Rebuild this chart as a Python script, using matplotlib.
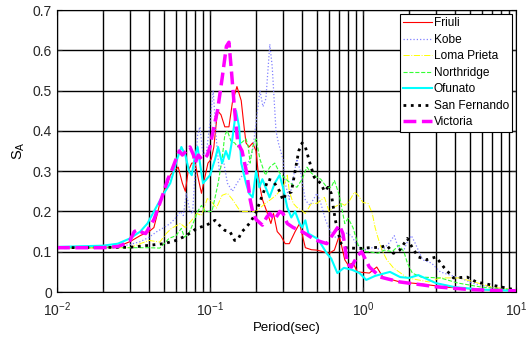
import matplotlib
matplotlib.use("Agg")
import matplotlib.pyplot as plt
from matplotlib.ticker import LogLocator, NullFormatter

plt.rcParams['font.family'] = ['Liberation Sans', 'DejaVu Sans']
plt.rcParams['mathtext.default'] = 'regular'

# response spectra, period (sec) / spectral acceleration
friuli_t = [0.01, 0.02, 0.025, 0.03, 0.035, 0.04, 0.043, 0.045, 0.047, 0.05, 0.053, 0.055, 0.058,
            0.062, 0.066, 0.069, 0.072, 0.076, 0.08, 0.084, 0.088, 0.092, 0.097, 0.102, 0.106,
            0.112, 0.118, 0.125, 0.133, 0.14, 0.15, 0.16, 0.167, 0.172, 0.18, 0.19, 0.2, 0.21,
            0.22, 0.235, 0.25, 0.26, 0.275, 0.29, 0.31, 0.33, 0.36, 0.385, 0.42, 0.46, 0.5, 0.55,
            0.6, 0.65, 0.7, 0.76, 0.8, 0.86, 0.92, 1.1, 1.23, 1.35, 1.74, 2.4, 3.5, 5.0, 7.0, 10.0]
friuli_sa = [0.11, 0.11, 0.113, 0.125, 0.14, 0.15, 0.16, 0.19, 0.22, 0.25, 0.27, 0.29, 0.3,
             0.31, 0.27, 0.25, 0.3, 0.32, 0.32, 0.28, 0.245, 0.28, 0.32, 0.33, 0.36,
             0.45, 0.44, 0.41, 0.41, 0.47, 0.51, 0.475, 0.41, 0.37, 0.36, 0.37, 0.35, 0.27,
             0.23, 0.2, 0.17, 0.195, 0.15, 0.14, 0.12, 0.12, 0.15, 0.17, 0.11, 0.105, 0.104, 0.1,
             0.096, 0.104, 0.14, 0.08, 0.067, 0.072, 0.05, 0.047, 0.062, 0.037, 0.025, 0.02, 0.012,
             0.008, 0.005, 0.003]

kobe_t = [0.01, 0.025, 0.03, 0.035, 0.04, 0.045, 0.05, 0.055, 0.06, 0.064, 0.067, 0.07, 0.074,
          0.077, 0.08, 0.083, 0.086, 0.09, 0.095, 0.1, 0.105, 0.11, 0.115, 0.122, 0.13, 0.14,
          0.15, 0.17, 0.19, 0.2, 0.212, 0.222, 0.232, 0.246, 0.255, 0.27, 0.28, 0.3, 0.31, 0.33,
          0.345, 0.37, 0.39, 0.42, 0.45, 0.5, 0.53, 0.57, 0.62, 0.66, 0.72, 0.78, 0.84, 0.9, 1.0,
          1.15, 1.35, 1.5, 1.6, 1.7, 1.85, 1.95, 2.07, 2.2, 2.45, 2.8, 3.2, 3.7, 4.3, 5.2, 6.8, 10.0]
kobe_sa = [0.11, 0.112, 0.118, 0.125, 0.136, 0.15, 0.16, 0.17, 0.185, 0.2, 0.19, 0.245, 0.2,
           0.195, 0.3, 0.39, 0.41, 0.34, 0.35, 0.42, 0.5, 0.38, 0.3, 0.33, 0.27, 0.25,
           0.27, 0.3, 0.35, 0.42, 0.5, 0.46, 0.48, 0.615, 0.56, 0.4, 0.37, 0.33, 0.27, 0.23,
           0.27, 0.33, 0.3, 0.228, 0.215, 0.245, 0.22, 0.178, 0.146, 0.136, 0.135, 0.146, 0.14,
           0.12, 0.104, 0.11, 0.105, 0.124, 0.14, 0.11, 0.104, 0.125, 0.14, 0.12, 0.08, 0.072,
           0.05, 0.042, 0.035, 0.022, 0.012, 0.005]

loma_t = [0.01, 0.03, 0.035, 0.04, 0.047, 0.052, 0.056, 0.064, 0.069, 0.076, 0.082, 0.088, 0.096,
          0.102, 0.11, 0.12, 0.13, 0.14, 0.158, 0.17, 0.2, 0.23, 0.25, 0.27, 0.3, 0.32, 0.33,
          0.35, 0.37, 0.39, 0.42, 0.46, 0.5, 0.56, 0.6, 0.645, 0.72, 0.76, 0.82, 0.88, 0.93,
          1.0, 1.08, 1.15, 1.2, 1.25, 1.33, 1.43, 1.58, 1.95, 2.7, 3.2, 4.2, 5.0, 7.0, 10.0]
loma_sa = [0.11, 0.11, 0.12, 0.128, 0.124, 0.146, 0.158, 0.17, 0.16, 0.178, 0.195, 0.19, 0.232,
           0.225, 0.208, 0.24, 0.245, 0.23, 0.2, 0.2, 0.2, 0.22, 0.23, 0.24, 0.26, 0.29, 0.25,
           0.22, 0.21, 0.205, 0.195, 0.22, 0.22, 0.235, 0.2, 0.21, 0.22, 0.215, 0.228, 0.248, 0.24,
           0.222, 0.22, 0.195, 0.16, 0.136, 0.104, 0.08, 0.06, 0.035, 0.025, 0.035, 0.035, 0.028,
           0.012, 0.005]

north_t = [0.01, 0.04, 0.047, 0.054, 0.06, 0.065, 0.068, 0.073, 0.08, 0.083, 0.088, 0.093, 0.098,
           0.103, 0.107, 0.113, 0.12, 0.125, 0.13, 0.137, 0.145, 0.152, 0.16, 0.172, 0.178, 0.183,
           0.19, 0.2, 0.212, 0.23, 0.246, 0.265, 0.286, 0.32, 0.35, 0.37, 0.4, 0.43, 0.46, 0.5,
           0.53, 0.58, 0.62, 0.65, 0.7, 0.76, 0.8, 0.86, 0.93, 1.05, 1.1, 1.25, 1.38, 1.55, 1.72,
           1.85, 1.95, 2.1, 2.4, 3.2, 4.2, 6.0, 10.0]
north_sa = [0.11, 0.11, 0.109, 0.133, 0.14, 0.158, 0.136, 0.146, 0.183, 0.2, 0.215, 0.2, 0.2,
            0.2, 0.228, 0.27, 0.33, 0.39, 0.4, 0.375, 0.37, 0.36, 0.37, 0.38, 0.36, 0.32,
            0.36, 0.38, 0.33, 0.29, 0.31, 0.32, 0.295, 0.277, 0.265, 0.26, 0.28, 0.31, 0.295, 0.285,
            0.28, 0.26, 0.26, 0.277, 0.24, 0.17, 0.183, 0.16, 0.116, 0.1, 0.1, 0.096, 0.104, 0.1,
            0.116, 0.1, 0.072, 0.047, 0.037, 0.035, 0.022, 0.012, 0.005]

ofu_t = [0.01, 0.02, 0.025, 0.03, 0.035, 0.039, 0.043, 0.05, 0.055, 0.058, 0.061, 0.065, 0.069,
         0.073, 0.076, 0.08, 0.083, 0.086, 0.09, 0.095, 0.1, 0.108, 0.113, 0.12, 0.127, 0.133,
         0.14, 0.148, 0.155, 0.16, 0.172, 0.18, 0.19, 0.2, 0.21, 0.22, 0.245, 0.265, 0.285, 0.3,
         0.32, 0.34, 0.36, 0.385, 0.4, 0.42, 0.44, 0.5, 0.53, 0.58, 0.62, 0.68, 0.75, 0.85, 0.95,
         1.05, 1.2, 1.5, 1.75, 2.0, 2.3, 3.0, 4.0, 6.0, 10.0]
ofu_sa = [0.112, 0.115, 0.12, 0.133, 0.15, 0.17, 0.2, 0.245, 0.27, 0.3, 0.33, 0.36, 0.34,
          0.3, 0.29, 0.34, 0.36, 0.32, 0.27, 0.28, 0.29, 0.33, 0.36, 0.32, 0.35, 0.33,
          0.38, 0.45, 0.41, 0.32, 0.27, 0.245, 0.235, 0.3, 0.26, 0.28, 0.235, 0.27, 0.29, 0.26,
          0.21, 0.185, 0.2, 0.17, 0.16, 0.178, 0.145, 0.133, 0.12, 0.096, 0.083, 0.047, 0.06,
          0.055, 0.047, 0.03, 0.04, 0.05, 0.037, 0.035, 0.042, 0.022, 0.012, 0.006, 0.003]

sanf_t = [0.01, 0.03, 0.04, 0.05, 0.06, 0.07, 0.082, 0.095, 0.108, 0.115, 0.125, 0.135, 0.145,
          0.152, 0.162, 0.172, 0.185, 0.2, 0.21, 0.225, 0.24, 0.255, 0.27, 0.285, 0.3, 0.315,
          0.34, 0.36, 0.38, 0.4, 0.42, 0.45, 0.48, 0.5, 0.53, 0.56, 0.59, 0.62, 0.64, 0.66, 0.69,
          0.72, 0.76, 0.85, 0.95, 1.1, 1.3, 1.43, 1.58, 1.74, 1.95, 2.1, 2.3, 2.6, 3.0, 3.4, 3.9,
          4.8, 5.5, 7.0, 10.0]
sanf_sa = [0.11, 0.111, 0.116, 0.12, 0.128, 0.14, 0.158, 0.166, 0.178, 0.166, 0.153, 0.15, 0.128,
           0.13, 0.15, 0.16, 0.175, 0.198, 0.22, 0.25, 0.28, 0.277, 0.265, 0.25, 0.228, 0.245,
           0.248, 0.3, 0.35, 0.37, 0.36, 0.32, 0.285, 0.277, 0.27, 0.25, 0.26, 0.245, 0.21, 0.178,
           0.146, 0.12, 0.11, 0.109, 0.108, 0.11, 0.111, 0.116, 0.096, 0.104, 0.133, 0.11, 0.087,
           0.08, 0.087, 0.06, 0.035, 0.037, 0.025, 0.017, 0.005]

vic_t = [0.01, 0.02, 0.025, 0.028, 0.03, 0.032, 0.034, 0.036, 0.038, 0.04, 0.043, 0.045, 0.048,
         0.05, 0.053, 0.056, 0.06, 0.063, 0.066, 0.07, 0.074, 0.078, 0.08, 0.084, 0.088, 0.092,
         0.096, 0.1, 0.106, 0.112, 0.12, 0.128, 0.133, 0.138, 0.145, 0.152, 0.162, 0.175, 0.183,
         0.19, 0.2, 0.22, 0.235, 0.246, 0.265, 0.286, 0.3, 0.32, 0.35, 0.387, 0.42, 0.47, 0.5,
         0.58, 0.62, 0.7, 0.74, 0.79, 0.84, 0.92, 0.98, 1.1, 1.3, 1.74, 2.4, 3.0, 4.0, 5.0, 7.0, 10.0]
vic_sa = [0.11, 0.11, 0.113, 0.12, 0.128, 0.15, 0.155, 0.148, 0.145, 0.16, 0.18, 0.2, 0.23,
          0.25, 0.28, 0.3, 0.33, 0.35, 0.34, 0.35, 0.36, 0.34, 0.32, 0.34, 0.33, 0.33,
          0.34, 0.36, 0.41, 0.45, 0.53, 0.61, 0.62, 0.55, 0.45, 0.37, 0.35, 0.29, 0.23,
          0.2, 0.18, 0.166, 0.186, 0.195, 0.18, 0.2, 0.195, 0.17, 0.16, 0.153, 0.145, 0.133, 0.128,
          0.12, 0.137, 0.166, 0.145, 0.07, 0.062, 0.09, 0.1, 0.062, 0.037, 0.025, 0.018, 0.013,
          0.009, 0.006, 0.004, 0.003]

fig = plt.figure(figsize=(5.3, 3.39), dpi=100)
ax = fig.add_axes([0.1075, 0.1386, 0.8661, 0.8319])

ax.semilogx(friuli_t, friuli_sa, '-', color='#ff0000', lw=0.8, label='Friuli')
ax.semilogx(kobe_t, kobe_sa, ':', color='#8080ff', lw=0.9, label='Kobe')
ax.semilogx(loma_t, loma_sa, '-.', color='#ffff00', lw=0.7, label='Loma Prieta')
ax.semilogx(north_t, north_sa, '--', color='#33ff33', lw=0.8, label='Northridge')
ax.semilogx(ofu_t, ofu_sa, '-', color='#00ffff', lw=1.5, label='Ofunato')
ax.semilogx(sanf_t, sanf_sa, ':', color='k', lw=2, label='San Fernando')
ax.semilogx(vic_t, vic_sa, '--', color='#ff00ff', lw=2.5, label='Victoria')

ax.set_xlim(0.01, 10)
ax.set_ylim(0, 0.7)
ax.xaxis.set_major_locator(LogLocator(base=10, numticks=10))
ax.xaxis.set_minor_locator(LogLocator(base=10, subs=range(2, 10), numticks=10))
ax.xaxis.set_minor_formatter(NullFormatter())
ax.set_yticks([0, 0.1, 0.2, 0.3, 0.4, 0.5, 0.6, 0.7])
ax.set_yticklabels(['0', '0.1', '0.2', '0.3', '0.4', '0.5', '0.6', '0.7'])

ax.grid(which='both', axis='x', color='k', lw=1, ls='-')
ax.grid(which='major', axis='y', color='k', lw=1, ls='-')
ax.tick_params(which='both', direction='in', top=True, right=True, labelsize=10, colors='#262626')
ax.tick_params(axis='x', pad=6)
for s in ax.spines.values():
    s.set_linewidth(0.8)

ax.set_xlabel('Period(sec)', fontsize=9.5, labelpad=2)
ax.set_ylabel('$S_A$', fontsize=10.5)

leg = ax.legend(loc='upper right', fontsize=8.6, frameon=True, fancybox=False,
                edgecolor='k', framealpha=1, borderpad=0.3, labelspacing=0.38,
                handlelength=2.4, handletextpad=0.15, borderaxespad=0.3)
leg.get_frame().set_linewidth(0.8)

fig.savefig('out.png', dpi=100)
